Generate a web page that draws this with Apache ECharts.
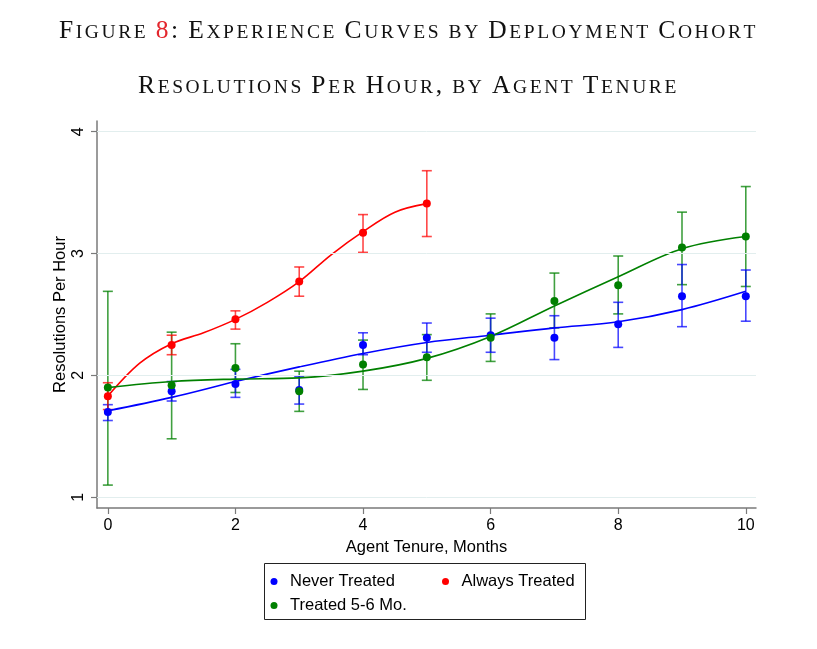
<!DOCTYPE html>
<html><head><meta charset="utf-8">
<script src="https://cdn.jsdelivr.net/npm/echarts@6/dist/echarts.min.js"></script>
<style>html,body{margin:0;padding:0;background:#fff}#c{width:817px;height:649px}</style>
</head><body><div id="c"></div>
<script>
// ---------- data ----------
const tenure = [0,1,2,3,4,5,6,7,8,9,10];
const tenureAlways = [0,1,2,3,4,5];

const neverMean = [1.70,1.87,1.93,1.88,2.25,2.31,2.33,2.31,2.42,2.65,2.65];
const neverLo   = [1.63,1.79,1.82,1.765,2.17,2.19,2.19,2.13,2.23,2.40,2.445];
const neverHi   = [1.76,1.95,2.05,1.99,2.35,2.43,2.47,2.49,2.60,2.91,2.865];
const neverFit  = [1.71,1.82,1.95,2.07,2.18,2.27,2.33,2.39,2.44,2.54,2.69];

const alwaysMean = [1.83,2.25,2.46,2.77,3.17,3.41];
const alwaysLo   = [1.72,2.17,2.38,2.65,3.01,3.14];
const alwaysHi   = [1.94,2.33,2.53,2.89,3.32,3.68];
const alwaysFitX = [0,0.5,1,1.5,2,2.5,3,3.5,4,4.5,5];
const alwaysFit  = [1.83,2.10,2.26,2.35,2.46,2.60,2.77,2.99,3.18,3.34,3.41];

const treatedMean = [1.90,1.92,2.06,1.87,2.09,2.15,2.31,2.61,2.74,3.05,3.14];
const treatedLo   = [1.10,1.48,1.86,1.705,1.885,1.96,2.115,2.39,2.505,2.745,2.73];
const treatedHi   = [2.69,2.355,2.26,2.035,2.29,2.335,2.505,2.84,2.98,3.34,3.55];
const treatedFit  = [1.90,1.95,1.97,1.98,2.035,2.14,2.32,2.57,2.81,3.04,3.14];

const xTicks = [0,2,4,6,8,10];
const yTicks = [1,2,3,4];
const seriesNames = ['Never Treated','Always Treated','Treated 5-6 Mo.'];
const titleLine1 = 'Figure 8: Experience Curves by Deployment Cohort';
const titleLine2 = 'Resolutions Per Hour, by Agent Tenure';
const xName = 'Agent Tenure, Months';
const yName = 'Resolutions Per Hour';

// ---------- styling ----------
const BLUE = '#0000ff', RED = '#ff0000', GREEN = '#008000';
const SANS = 'Liberation Sans, Arial, Helvetica, sans-serif';
const SERIF = 'Liberation Serif, Times New Roman, serif';
const LS = 2.6;

function smallCaps(str) {
  let out = '';
  for (const ch of str) {
    if (ch === '8') out += '{r|8}';
    else if (ch === ' ') out += '{s| }';
    else if (ch >= 'a' && ch <= 'z') out += '{s|' + ch.toUpperCase() + '}';
    else out += '{b|' + ch + '}';
  }
  return out;
}
const rich = {
  b: {fontFamily: SERIF, fontWeight: 'normal', fontSize: 25.5, color: '#111', lineHeight: 32, verticalAlign: 'bottom', padding: [0, LS, 0, 0]},
  s: {fontFamily: SERIF, fontWeight: 'normal', fontSize: 19.5, color: '#111', lineHeight: 32, verticalAlign: 'bottom', padding: [0, LS, 1, 0]},
  r: {fontFamily: SERIF, fontWeight: 'normal', fontSize: 25.5, color: '#e3262d', lineHeight: 32, verticalAlign: 'bottom', padding: [0, LS, 0, 0]}
};

function errBars(name, xs, lo, hi, color) {
  return {
    type: 'custom', name: name, silent: true, z: 2,
    data: xs.map((x, i) => [x, lo[i], hi[i]]),
    encode: {x: 0, y: [1, 2]},
    renderItem: function (params, api) {
      const x = api.value(0);
      const p1 = api.coord([x, api.value(1)]);
      const p2 = api.coord([x, api.value(2)]);
      const w = 5;
      const style = {stroke: color, lineWidth: 1.6, fill: null};
      return {type: 'group', children: [
        {type: 'line', shape: {x1: p1[0], y1: p1[1], x2: p2[0], y2: p2[1]}, style: style},
        {type: 'line', shape: {x1: p1[0] - w, y1: p1[1], x2: p1[0] + w, y2: p1[1]}, style: style},
        {type: 'line', shape: {x1: p2[0] - w, y1: p2[1], x2: p2[0] + w, y2: p2[1]}, style: style}
      ]};
    }
  };
}
function fitLine(name, xs, ys, color) {
  return {type: 'line', name: name, data: xs.map((x, i) => [x, ys[i]]), smooth: 0.35,
    showSymbol: false, symbol: 'none', silent: true, z: 3,
    lineStyle: {color: color, width: 1.6}};
}
function points(name, xs, ys, color) {
  return {type: 'scatter', name: name, data: xs.map((x, i) => [x, ys[i]]), symbol: 'circle',
    symbolSize: 8, itemStyle: {color: color, opacity: 1}, z: 5, silent: true};
}
const legendCommon = {orient: 'horizontal', padding: 0, itemWidth: 22, itemHeight: 7, icon: 'circle',
  selectedMode: false, textStyle: {fontFamily: SANS, fontSize: 16.5, color: '#000', lineHeight: 16}};

const chart = echarts.init(document.getElementById('c'));
chart.setOption({
  backgroundColor: '#fff',
  animation: false,
  title: [
    {text: smallCaps(titleLine1), left: 'center', top: 12, padding: 0, textStyle: {fontWeight: 'normal', rich: rich}},
    {text: smallCaps(titleLine2), left: 'center', top: 67, padding: 0, textStyle: {fontWeight: 'normal', rich: rich}}
  ],
  grid: {left: 97, right: 61, top: 121, bottom: 141},
  xAxis: {
    type: 'value', min: -0.17, max: 10.16,
    name: xName, nameLocation: 'middle', nameGap: 29,
    nameTextStyle: {fontFamily: SANS, fontSize: 16.5, color: '#000'},
    axisLine: {onZero: false, lineStyle: {color: '#7a7a7a', width: 1.5}},
    axisTick: {show: true, length: 6, customValues: xTicks, lineStyle: {color: '#7a7a7a', width: 1.2}},
    axisLabel: {customValues: xTicks, margin: 10, fontFamily: SANS, fontSize: 16, color: '#000'},
    splitLine: {show: false}
  },
  yAxis: {
    type: 'value', min: 0.912, max: 4.088,
    name: yName, nameLocation: 'middle', nameGap: 28, nameRotate: 90, nameMoveOverlap: false,
    nameTextStyle: {fontFamily: SANS, fontSize: 16.5, color: '#000'},
    axisLine: {show: true, onZero: false, lineStyle: {color: '#7a7a7a', width: 1.5}},
    axisTick: {show: true, length: 6, customValues: yTicks, lineStyle: {color: '#7a7a7a', width: 1.2}},
    axisLabel: {customValues: yTicks, rotate: 90, margin: 10, fontFamily: SANS, fontSize: 16, color: '#000'},
    splitLine: {show: false}
  },
  legend: [
    Object.assign({data: [seriesNames[0]], left: 270.5, top: 573}, legendCommon),
    Object.assign({data: [seriesNames[1]], left: 442, top: 573}, legendCommon),
    Object.assign({data: [seriesNames[2]], left: 270.5, top: 597}, legendCommon)
  ],
  graphic: [
    {type: 'rect', shape: {x: 264.5, y: 563.5, width: 321, height: 56}, style: {fill: 'none', stroke: '#222', lineWidth: 1}, z: 100}
  ],
  series: [
    {type: 'line', name: 'grid', data: [], silent: true, z: 0,
      markLine: {silent: true, symbol: 'none', label: {show: false}, animation: false,
        lineStyle: {color: '#e2eeee', width: 1, type: 'solid'},
        data: yTicks.map(v => ({yAxis: v}))}},
    errBars('Treated bars', tenure, treatedLo, treatedHi, 'rgba(0,128,0,0.75)'),
    errBars('Never bars', tenure, neverLo, neverHi, 'rgba(0,0,255,0.72)'),
    errBars('Always bars', tenureAlways, alwaysLo, alwaysHi, 'rgba(255,0,0,0.72)'),
    fitLine('Never fit', tenure, neverFit, BLUE),
    fitLine('Always fit', alwaysFitX, alwaysFit, RED),
    fitLine('Treated fit', tenure, treatedFit, GREEN),
    points(seriesNames[0], tenure, neverMean, BLUE),
    points(seriesNames[1], tenureAlways, alwaysMean, RED),
    points(seriesNames[2], tenure, treatedMean, GREEN)
  ]
});
</script></body></html>
